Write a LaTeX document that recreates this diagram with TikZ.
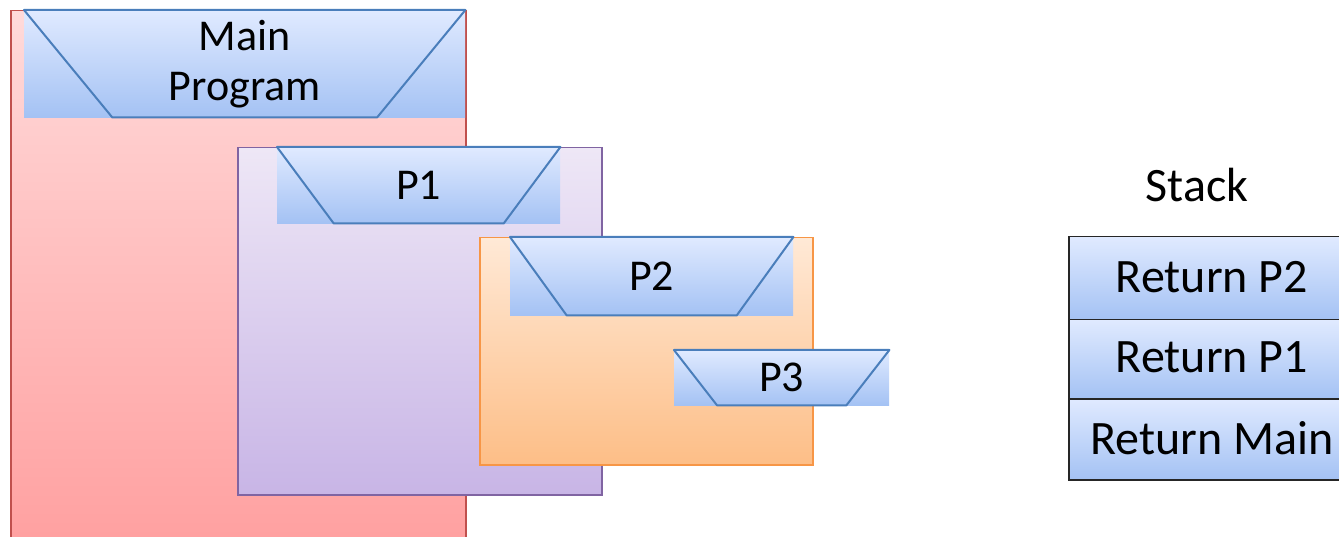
\documentclass[tikz,border=0pt]{standalone}
\usepackage{fontspec}
\setmainfont{Carlito}
\usetikzlibrary{calc}
\definecolor{blueT}{RGB}{224,234,255}
\definecolor{blueB}{RGB}{164,194,244}
\definecolor{blueLine}{RGB}{74,126,187}
\definecolor{redT}{RGB}{255,218,218}
\definecolor{redB}{RGB}{255,160,160}
\definecolor{redLine}{RGB}{192,80,77}
\definecolor{purT}{RGB}{238,231,246}
\definecolor{purB}{RGB}{200,181,230}
\definecolor{purLine}{RGB}{128,100,162}
\definecolor{oraT}{RGB}{255,233,214}
\definecolor{oraB}{RGB}{253,190,135}
\definecolor{oraLine}{RGB}{247,150,70}
\tikzset{
  frame/.style={draw, line width=1.5pt, rectangle, inner sep=0pt, anchor=north west, shading=axis, shading angle=0},
  procfill/.style={rectangle, inner sep=0pt, anchor=north west, top color=blueT, bottom color=blueB,
     font=\fontsize{44}{50}\selectfont, align=center, text=black},
  trap/.style={draw=blueLine, line width=2pt, line join=round},
  stackbox/.style={draw=black!85, line width=1.5pt, rectangle, inner sep=0pt, anchor=north west,
     top color=blueT, bottom color=blueB},
  stacktext/.style={font=\fontsize{48}{52}\selectfont, text=black},
}
\begin{document}
\begin{tikzpicture}[x=1pt,y=-1pt]
\useasboundingbox (0,0) rectangle (1339,537);
% red main frame
\node[frame, draw=redLine, top color=redT, bottom color=redB, minimum width=455pt, minimum height=535pt] (mainframe) at (10,10) {};
% main program
\node[procfill, minimum width=441pt, minimum height=107pt] (mainp) at (24,10) {Main\\[0pt]Program};
\draw[trap] (mainp.north west) -- (mainp.north east)
  -- ($(mainp.south east)!0.2!(mainp.south west)$) -- ($(mainp.south west)!0.2!(mainp.south east)$) -- cycle;
% purple P1 frame
\node[frame, draw=purLine, top color=purT, bottom color=purB, minimum width=364pt, minimum height=347pt] (p1frame) at (237,147) {};
\node[procfill, minimum width=283pt, minimum height=76pt] (p1) at (277,147) {P1};
\draw[trap] (p1.north west) -- (p1.north east)
  -- ($(p1.south east)!0.2!(p1.south west)$) -- ($(p1.south west)!0.2!(p1.south east)$) -- cycle;
% orange P2 frame
\node[frame, draw=oraLine, top color=oraT, bottom color=oraB, minimum width=333pt, minimum height=227pt] (p2frame) at (479,237) {};
\node[procfill, minimum width=283pt, minimum height=78pt] (p2) at (510,237) {P2};
\draw[trap] (p2.north west) -- (p2.north east)
  -- ($(p2.south east)!0.2!(p2.south west)$) -- ($(p2.south west)!0.2!(p2.south east)$) -- cycle;
% P3
\node[procfill, minimum width=215pt, minimum height=55pt] (p3) at (674,350) {P3};
\draw[trap] (p3.north west) -- (p3.north east)
  -- ($(p3.south east)!0.2!(p3.south west)$) -- ($(p3.south west)!0.2!(p3.south east)$) -- cycle;
% stack
\node[stacktext] (stacklbl) at (1197,185) {Stack};
\node[stackbox, minimum width=290pt, minimum height=83pt] (s1) at (1068,236) {};
\node[stackbox, minimum width=290pt, minimum height=79pt] (s2) at (1068,319) {};
\node[stackbox, minimum width=290pt, minimum height=81pt] (s3) at (1068,398) {};
\node[stacktext] (t1) at (1212,277) {Return P2};
\node[stacktext] (t2) at (1212,357) {Return P1};
\node[stacktext] (t3) at (1212,438) {Return Main};
\end{tikzpicture}
\end{document}
